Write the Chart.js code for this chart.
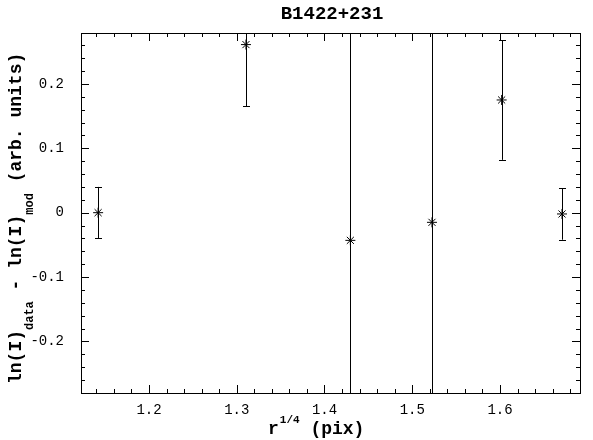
<!doctype html>
<html lang="en">
<head>
<meta charset="utf-8">
<title>B1422+231</title>
<script src="https://cdn.jsdelivr.net/npm/chart.js@4.4.0/dist/chart.umd.min.js"></script>
<style>
  body { margin: 0; background: #fff; }
  #wrap { position: relative; width: 593px; height: 440px; }
</style>
</head>
<body>
<div id="wrap"><canvas id="myChart"></canvas></div>
<script>
// data
const xVals = [1.142, 1.3105, 1.4295, 1.5225, 1.6019, 1.6707];
const yVals = [0.000, 0.261, -0.043, -0.015, 0.175, -0.002];
const yErr = [0.040, 0.096, 0.60, 0.60, 0.093, 0.040];

const xTicks = [1.2, 1.3, 1.4, 1.5, 1.6];
const yTicks = [-0.2, -0.1, 0, 0.1, 0.2];

const X_MIN = 1.1225, X_MAX = 1.6912;
const Y_MIN = -0.28, Y_MAX = 0.279;

const monoFont = "'Liberation Mono', 'DejaVu Sans Mono', monospace";

function minorTicks(min, max, step) {
    const out = [];
    for (let v = Math.ceil(min / step) * step; v <= max + 1e-9; v += step) out.push(v);
    return out;
}

const framePlugin = {
    id: 'frame',
    afterDatasetsDraw(chart) {
        const ctx = chart.ctx;
        const a = chart.chartArea;
        const xs = chart.scales.x, ys = chart.scales.y;
        ctx.save();
        ctx.strokeStyle = '#000';
        ctx.lineWidth = 1;

        // error bars
        ctx.beginPath();
        ctx.rect(a.left, a.top, a.right - a.left, a.bottom - a.top);
        ctx.clip();
        ctx.beginPath();
        for (let i = 0; i < xVals.length; i++) {
            const px = Math.round(xs.getPixelForValue(xVals[i])) + 0.5;
            const lo = ys.getPixelForValue(yVals[i] - yErr[i]);
            const hi = ys.getPixelForValue(yVals[i] + yErr[i]);
            ctx.moveTo(px, lo); ctx.lineTo(px, hi);
            ctx.moveTo(px - 3.5, Math.round(lo) + 0.5); ctx.lineTo(px + 3.5, Math.round(lo) + 0.5);
            ctx.moveTo(px - 3.5, Math.round(hi) + 0.5); ctx.lineTo(px + 3.5, Math.round(hi) + 0.5);
        }
        ctx.stroke();
        ctx.restore();

        ctx.save();
        ctx.strokeStyle = '#000';
        ctx.lineWidth = 1;
        // frame
        ctx.strokeRect(Math.round(a.left) + 0.5, Math.round(a.top) + 0.5,
            Math.round(a.right - a.left), Math.round(a.bottom - a.top));

        // inward ticks, all four sides
        ctx.beginPath();
        minorTicks(X_MIN, X_MAX, 0.02).forEach(v => {
            const major = Math.abs(v * 10 - Math.round(v * 10)) < 1e-6;
            const len = major ? 8 : 4;
            const px = Math.round(xs.getPixelForValue(v)) + 0.5;
            ctx.moveTo(px, a.bottom); ctx.lineTo(px, a.bottom - len);
            ctx.moveTo(px, a.top); ctx.lineTo(px, a.top + len);
        });
        minorTicks(Y_MIN, Y_MAX, 0.02).forEach(v => {
            const major = Math.abs(v * 10 - Math.round(v * 10)) < 1e-6;
            const len = major ? 8 : 4;
            const py = Math.round(ys.getPixelForValue(v)) + 0.5;
            ctx.moveTo(a.left, py); ctx.lineTo(a.left + len, py);
            ctx.moveTo(a.right, py); ctx.lineTo(a.right - len, py);
        });
        ctx.stroke();

        // title
        ctx.fillStyle = '#000';
        ctx.textBaseline = 'alphabetic';
        ctx.textAlign = 'center';
        ctx.font = 'bold 19px ' + monoFont;
        ctx.fillText('B1422+231', 332, 19);

        // x title with superscript
        ctx.textAlign = 'left';
        let x = 268;
        ctx.font = 'bold 18px ' + monoFont;
        ctx.fillText('r', x, 434);
        x += ctx.measureText('r').width + 1;
        ctx.font = 'bold 11px ' + monoFont;
        ctx.fillText('1/4', x, 423);
        x += ctx.measureText('1/4').width;
        ctx.font = 'bold 18px ' + monoFont;
        ctx.fillText(' (pix)', x, 434);

        // y title, rotated, with subscripts
        ctx.translate(21, 384);
        ctx.rotate(-Math.PI / 2);
        const parts = [
            ['ln(I)', 0], ['data', 1], [' - ', 0], ['ln(I)', 0], ['mod', 1], [' (arb. units)', 0]
        ];
        let pos = 0;
        parts.forEach(([t, sub]) => {
            ctx.font = sub ? 'bold 12px ' + monoFont : 'bold 18px ' + monoFont;
            ctx.fillText(t, pos, sub ? 12 : 0);
            pos += ctx.measureText(t).width;
        });
        ctx.restore();
    }
};

new Chart(document.getElementById('myChart'), {
    type: 'scatter',
    data: {
        datasets: [{
            data: xVals.map((v, i) => ({ x: v, y: yVals[i] })),
            pointStyle: 'star',
            pointRadius: 5,
            pointBorderWidth: 1,
            borderColor: '#000',
            backgroundColor: '#000',
        }]
    },
    options: {
        responsive: true,
        maintainAspectRatio: false,
        animation: false,
        layout: { padding: { top: 33, right: 13, left: 0, bottom: 0 } },
        plugins: { legend: { display: false }, tooltip: { enabled: false } },
        scales: {
            x: {
                type: 'linear',
                min: X_MIN, max: X_MAX,
                grid: { display: false },
                border: { display: false },
                afterBuildTicks: s => { s.ticks = xTicks.map(v => ({ value: v })); },
                afterFit: s => { s.height = 47; },
                ticks: {
                    padding: 1,
                    color: '#000',
                    maxRotation: 0,
                    font: { family: monoFont, size: 14 },
                    callback: v => v.toFixed(1)
                }
            },
            y: {
                type: 'linear',
                min: Y_MIN, max: Y_MAX,
                grid: { display: false },
                border: { display: false },
                afterBuildTicks: s => { s.ticks = yTicks.map(v => ({ value: v })); },
                afterFit: s => { s.width = 81; },
                ticks: {
                    padding: 9,
                    color: '#000',
                    font: { family: monoFont, size: 14 },
                    callback: v => Math.abs(v) < 1e-9 ? '0' : v.toFixed(1)
                }
            }
        }
    },
    plugins: [framePlugin]
});
</script>
</body>
</html>
